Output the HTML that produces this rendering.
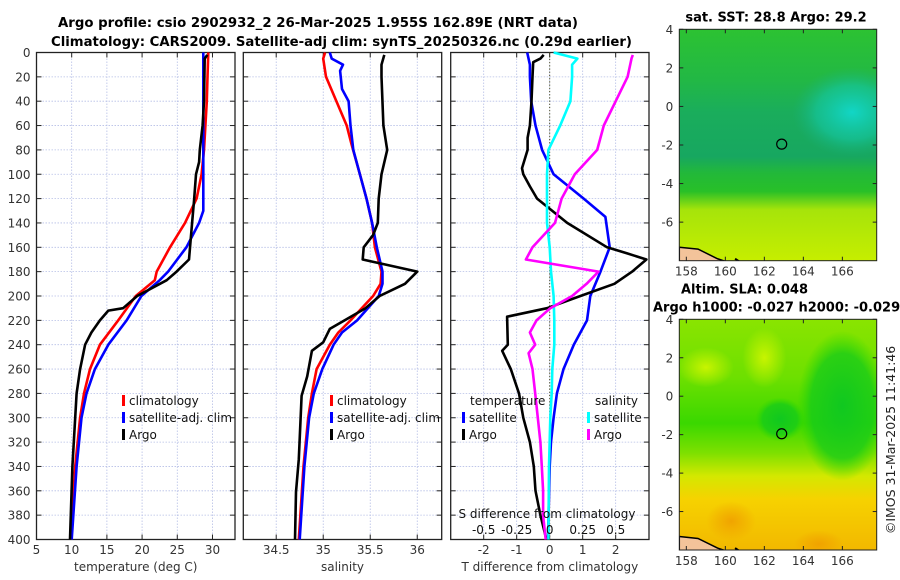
<!DOCTYPE html>
<html><head><meta charset="utf-8">
<style>
html,body{margin:0;padding:0;background:#fff;}
svg{display:block;font-family:"DejaVu Sans","Liberation Sans",sans-serif;}
</style></head>
<body>
<svg id="fig" width="900" height="580" viewBox="0 0 900 580" xmlns="http://www.w3.org/2000/svg">
<defs>
<linearGradient id="sstGrad" x1="0" y1="0" x2="0" y2="1">
<stop offset="0" stop-color="#2cc232"/>
<stop offset="0.22" stop-color="#22b845"/>
<stop offset="0.36" stop-color="#1aad5c"/>
<stop offset="0.55" stop-color="#17a760"/>
<stop offset="0.62" stop-color="#22b83a"/>
<stop offset="0.7" stop-color="#28c028"/>
<stop offset="0.78" stop-color="#a6e40a"/>
<stop offset="1" stop-color="#c6ee00"/>
</linearGradient>
<radialGradient id="cyanBlob" cx="0.5" cy="0.5" r="0.5">
<stop offset="0" stop-color="#12d6c6" stop-opacity="1"/>
<stop offset="0.6" stop-color="#14c8a8" stop-opacity="0.6"/>
<stop offset="1" stop-color="#18b080" stop-opacity="0"/>
</radialGradient>
<linearGradient id="slaGrad" x1="0" y1="0" x2="0" y2="1">
<stop offset="0" stop-color="#8ae400"/>
<stop offset="0.25" stop-color="#6ee000"/>
<stop offset="0.45" stop-color="#3ad800"/>
<stop offset="0.58" stop-color="#7ee000"/>
<stop offset="0.68" stop-color="#d4e800"/>
<stop offset="0.78" stop-color="#f6d200"/>
<stop offset="1" stop-color="#f2b800"/>
</linearGradient>
<radialGradient id="greenBlob" cx="0.5" cy="0.5" r="0.5">
<stop offset="0" stop-color="#10c820" stop-opacity="1"/>
<stop offset="0.7" stop-color="#18cc18" stop-opacity="0.8"/>
<stop offset="1" stop-color="#30d800" stop-opacity="0"/>
</radialGradient>
<radialGradient id="yellowBlob" cx="0.5" cy="0.5" r="0.5">
<stop offset="0" stop-color="#c8f400" stop-opacity="1"/>
<stop offset="1" stop-color="#c8f400" stop-opacity="0"/>
</radialGradient>
<radialGradient id="orangeBlob" cx="0.5" cy="0.5" r="0.5">
<stop offset="0" stop-color="#f0a000" stop-opacity="0.9"/>
<stop offset="1" stop-color="#f0a000" stop-opacity="0"/>
</radialGradient>
</defs>
<text x="58" y="27" textLength="520" lengthAdjust="spacingAndGlyphs" font-size="13" font-weight="bold">Argo profile: csio 2902932_2 26-Mar-2025 1.955S 162.89E (NRT data)</text>
<text x="51" y="46" textLength="581" lengthAdjust="spacingAndGlyphs" font-size="13" font-weight="bold">Climatology: CARS2009. Satellite-adj clim: synTS_20250326.nc (0.29d earlier)</text>
<g id="panels"></g>
<g id="maps"></g>
<text transform="translate(895,440) rotate(-90)" text-anchor="middle" font-size="12.5" fill="#222">©IMOS 31-Mar-2025 11:41:46</text>
</svg>
<script>
// ---- data (depth in m) ----
const tClimDepth=[0,20,40,60,80,100,120,140,160,180,187,200,220,240,260,280,300,340,400];
const tClimVal=[29.4,29.3,29.2,29.0,28.8,28.46,27.75,26.1,23.96,22.07,21.8,19.1,16.6,14.0,12.6,11.75,11.2,10.5,9.86];
const tSatDepth=[0,20,60,100,130,140,160,180,187,200,220,240,260,280,300,340,400];
const tSatVal=[28.7,28.7,28.7,28.7,28.7,28.1,26.3,23.7,22.5,19.9,17.8,15.2,13.3,12.1,11.4,10.7,10.0];
const tArgoDepth=[2,5,40,60,80,90,100,120,140,170,180,187,200,210,212,220,230,240,260,280,300,340,400];
const tArgoVal=[29.26,28.9,28.8,28.6,28.2,28.1,27.66,27.4,27.1,26.66,24.9,23.5,19.3,17.3,15.2,14.0,12.8,11.9,11.2,10.7,10.5,10.1,9.76];

const sClimDepth=[0,5,20,40,60,75,100,120,140,160,180,190,200,220,230,240,260,280,300,340,400];
const sClimVal=[35.02,35.0,35.03,35.14,35.25,35.3,35.39,35.46,35.52,35.55,35.62,35.61,35.53,35.29,35.16,35.07,34.93,34.88,34.84,34.79,34.74];
const sSatDepth=[0,5,10,15,30,40,60,80,100,120,140,160,180,190,200,220,230,240,260,280,300,340,400];
const sSatVal=[35.07,35.09,35.21,35.18,35.2,35.27,35.29,35.32,35.39,35.46,35.52,35.57,35.63,35.63,35.59,35.36,35.2,35.11,34.99,34.9,34.85,34.8,34.75];
const sArgoDepth=[2,10,20,60,80,100,120,140,150,160,170,180,190,200,210,219,227,238,245,266,282,334,361,400];
const sArgoVal=[35.65,35.62,35.62,35.64,35.68,35.62,35.59,35.58,35.53,35.43,35.42,36.0,35.87,35.6,35.45,35.25,35.07,35.0,34.88,34.83,34.77,34.74,34.71,34.70];

const dTSatDepth=[0,10,20,40,60,80,100,120,135,160,180,200,220,240,260,280,300,320,340,400];
const dTSatVal=[-0.68,-0.6,-0.6,-0.56,-0.43,-0.23,0.12,1.03,1.69,1.82,1.54,1.23,1.13,0.73,0.42,0.22,0.12,0.04,0.0,-0.05];
const dTArgoDepth=[2,5,8,20,40,60,70,80,95,100,110,120,140,160,165,170,180,190,200,210,217,240,245,260,280,300,320,340,360,380,400];
const dTArgoVal=[-0.18,-0.28,-0.5,-0.52,-0.55,-0.6,-0.67,-0.67,-0.84,-0.8,-0.6,-0.38,0.53,1.74,2.35,2.93,2.5,1.96,0.93,-0.08,-1.29,-1.27,-1.44,-1.18,-0.93,-0.8,-0.6,-0.48,-0.43,-0.28,-0.1];
const dSSatDepth=[0,5,10,20,40,60,80,100,140,160,180,200,220,240,260,280,300,340,400];
const dSSatVal=[0.03,0.21,0.17,0.17,0.157,0.08,-0.01,-0.02,-0.02,0.0,0.01,0.03,0.035,0.035,0.02,0.015,0.005,-0.005,-0.01];
const dSArgoDepth=[2,5,20,40,60,80,100,120,140,160,170,180,190,200,210,220,230,240,247,260,280,300,320,340,360,380,400];
const dSArgoVal=[0.63,0.62,0.59,0.5,0.41,0.36,0.19,0.09,0.04,-0.13,-0.18,0.37,0.28,0.17,0.005,-0.1,-0.15,-0.11,-0.16,-0.13,-0.11,-0.09,-0.07,-0.06,-0.05,-0.05,-0.03];

const depthTicks=[0,20,40,60,80,100,120,140,160,180,200,220,240,260,280,300,320,340,360,380,400];
const tempTicks=[5,10,15,20,25,30];
const salTicks=[34.5,35,35.5,36];
const salTickLabels=["34.5","35","35.5","36"];
const dTTicks=[-2,-1,0,1,2];
const dSTicks=[-0.5,-0.25,0,0.25,0.5];
const dSTickLabels=["-0.5","-0.25","0","0.25","0.5"];
const latTicks=[4,2,0,-2,-4,-6];
const lonTicks=[158,160,162,164,166];

const NS="http://www.w3.org/2000/svg";
function mk(tag,attrs,parent){const e=document.createElementNS(NS,tag);for(const k in attrs)e.setAttribute(k,attrs[k]);parent.appendChild(e);return e;}
const panelsG=document.getElementById('panels');
const Y0=52.5,Y1=539.5;
function yD(d){return Y0+(d/400)*(Y1-Y0);}
const FS=12;

function panel(name,x0,x1,vmin,vmax,ticks,tickLabels,xlabel,showY){
  const g=mk('g',{},panelsG);
  
  
  const xs=v=>x0+(v-vmin)/(vmax-vmin)*(x1-x0);
  depthTicks.forEach(d=>{if(d>0&&d<400){const l=mk('line',{x1:x0,x2:x1,y1:yD(d),y2:yD(d),stroke:'#b6bfe6','stroke-width':0.8,'stroke-dasharray':'1.5,1.5'},g);
    }});
  ticks.forEach(v=>{const l=mk('line',{x1:xs(v),x2:xs(v),y1:Y0,y2:Y1,stroke:'#b6bfe6','stroke-width':0.8,'stroke-dasharray':'1.5,1.5'},g);
    });
  depthTicks.forEach((d,i)=>{
    mk('line',{x1:x0,x2:x0+5,y1:yD(d),y2:yD(d),stroke:'#222','stroke-width':1},g);
    mk('line',{x1:x1-5,x2:x1,y1:yD(d),y2:yD(d),stroke:'#222','stroke-width':1},g);
    if(showY){const t=mk('text',{x:x0-6,y:yD(d)+4.5,'text-anchor':'end','font-size':FS,fill:'#333'},g);t.textContent=d;
      }
  });
  ticks.forEach((v,i)=>{
    mk('line',{x1:xs(v),x2:xs(v),y1:Y0,y2:Y0+5,stroke:'#222','stroke-width':1},g);
    mk('line',{x1:xs(v),x2:xs(v),y1:Y1-5,y2:Y1,stroke:'#222','stroke-width':1},g);
    const t=mk('text',{x:xs(v),y:554,'text-anchor':'middle','font-size':FS,fill:'#333'},g);t.textContent=tickLabels[i];
    
  });
  const box=mk('rect',{x:x0,y:Y0,width:x1-x0,height:Y1-Y0,fill:'none',stroke:'#222','stroke-width':1.3},g);
  
  const xl=mk('text',{x:(x0+x1)/2,y:571,'text-anchor':'middle','font-size':FS,fill:'#333'},g);xl.textContent=xlabel;
  
  return {g,xs};
}
function series(p,depths,vals,color,name,scale){
  scale=scale||1;
  const pts=depths.map((d,i)=>p.xs(vals[i]*scale).toFixed(1)+','+yD(d).toFixed(1)).join(' ');
  const pl=mk('polyline',{points:pts,fill:'none',stroke:color,'stroke-width':2.6,'stroke-linejoin':'round'},p.g);
  
  
}
function legendItem(g,x,y,color,label,name){
  mk('rect',{x:x,y:y-10,width:3,height:11,fill:color},g);
  const t=mk('text',{x:x+7,y:y,'font-size':FS,fill:'#111'},g);t.textContent=label;
  
  
}

const p1=panel('temperature-panel',36.5,235,5,33.2,tempTicks,tempTicks.map(String),'temperature (deg C)',true);
series(p1,tClimDepth,tClimVal,'#ff0000','temp-climatology-line');
series(p1,tSatDepth,tSatVal,'#0000ff','temp-satellite-line');
series(p1,tArgoDepth,tArgoVal,'#000000','temp-argo-line');
legendItem(p1.g,122,405,'#ff0000','climatology','legend-climatology');
legendItem(p1.g,122,422,'#0000ff','satellite-adj. clim','legend-satellite');
legendItem(p1.g,122,439,'#000000','Argo','legend-argo');

const p2=panel('salinity-panel',243.3,441.7,34.15,36.26,salTicks,salTickLabels,'salinity',false);
series(p2,sClimDepth,sClimVal,'#ff0000','sal-climatology-line');
series(p2,sSatDepth,sSatVal,'#0000ff','sal-satellite-line');
series(p2,sArgoDepth,sArgoVal,'#000000','sal-argo-line');
legendItem(p2.g,330,405,'#ff0000','climatology','legend-climatology');
legendItem(p2.g,330,422,'#0000ff','satellite-adj. clim','legend-satellite');
legendItem(p2.g,330,439,'#000000','Argo','legend-argo');

const p3=panel('difference-panel',450.7,649,-3,3.01,dTTicks,dTTicks.map(String),'T difference from climatology',false);
const zl=mk('line',{x1:p3.xs(0),x2:p3.xs(0),y1:Y0,y2:Y1,stroke:'#4a4a20','stroke-width':1,'stroke-dasharray':'1.2,2'},p3.g);

series(p3,dTSatDepth,dTSatVal,'#0000ff','dT-satellite-line');
series(p3,dTArgoDepth,dTArgoVal,'#000000','dT-argo-line');
series(p3,dSSatDepth,dSSatVal,'#00ffff','dS-satellite-line',4);
series(p3,dSArgoDepth,dSArgoVal,'#ff00ff','dS-argo-line',4);
{const t=mk('text',{x:470,y:405,'font-size':FS,fill:'#111'},p3.g);t.textContent='temperature';
 
 const t2=mk('text',{x:595,y:405,'font-size':FS,fill:'#111'},p3.g);t2.textContent='salinity';
 }
legendItem(p3.g,462,422,'#0000ff','satellite','legend-t-satellite');
legendItem(p3.g,462,439,'#000000','Argo','legend-t-argo');
legendItem(p3.g,587,422,'#00ffff','satellite','legend-s-satellite');
legendItem(p3.g,587,439,'#ff00ff','Argo','legend-s-argo');
{const t=mk('text',{x:547,y:518,'text-anchor':'middle','font-size':FS,fill:'#111'},p3.g);t.textContent='S difference from climatology';
 
 dSTicks.forEach((v,i)=>{const s=mk('text',{x:p3.xs(v*4),y:534,'text-anchor':'middle','font-size':FS,fill:'#111'},p3.g);s.textContent=dSTickLabels[i];
 });}

const mapsG=document.getElementById('maps');
function map(name,top,bottom,title,title2,fillFn){
  const x0=679.3,x1=876.7;
  const g=mk('g',{},mapsG);
  
  
  const lonX=v=>x0+(v-157.64)/(167.76-157.64)*(x1-x0);
  const latY=v=>top+(4-v)/12*(bottom-top);
  const cp0=mk('clipPath',{id:name+'clip'},g);
  mk('rect',{x:x0,y:top,width:x1-x0,height:bottom-top},cp0);
  const cg=mk('g',{'clip-path':'url(#'+name+'clip)'},g);
  fillFn(cg,x0,x1,top,bottom,lonX,latY);
  mk('path',{d:`M${x0} ${latY(-7.3)} L${lonX(158.6)} ${latY(-7.4)} L${lonX(159.6)} ${latY(-7.9)} L${lonX(160.2)} ${latY(-8.1)} L${x0} ${latY(-8.1)} Z`,fill:'#f3c39a',stroke:'#000','stroke-width':1.5},cg);
  mk('path',{d:`M${lonX(160.5)} ${latY(-7.9)} L${lonX(160.8)} ${latY(-8.1)}`,stroke:'#000','stroke-width':2},cg);
  const c=mk('circle',{cx:lonX(162.89),cy:latY(-1.955),r:5,fill:'none',stroke:'#000','stroke-width':1.2},g);
  
  mk('rect',{x:x0,y:top,width:x1-x0,height:bottom-top,fill:'none',stroke:'#222','stroke-width':1},g);
  latTicks.forEach(v=>{mk('line',{x1:x0,x2:x0+4,y1:latY(v),y2:latY(v),stroke:'#222'},g);mk('line',{x1:x1-4,x2:x1,y1:latY(v),y2:latY(v),stroke:'#222'},g);
    const t=mk('text',{x:x0-6,y:latY(v)+4.5,'text-anchor':'end','font-size':FS,fill:'#333'},g);t.textContent=v;
    });
  lonTicks.forEach(v=>{mk('line',{x1:lonX(v),x2:lonX(v),y1:top,y2:top+4,stroke:'#222'},g);mk('line',{x1:lonX(v),x2:lonX(v),y1:bottom-4,y2:bottom,stroke:'#222'},g);
    const t=mk('text',{x:lonX(v),y:bottom+15,'text-anchor':'middle','font-size':FS,fill:'#333'},g);t.textContent=v;
    });
  const tt=mk('text',{x:(x0+x1)/2-2,y:top-8,'text-anchor':'middle','font-size':13,'font-weight':'bold'},g);tt.textContent=title;
  
  if(title2){const t2=mk('text',{x:653,y:top-8,'font-size':13,'font-weight':'bold'},g);t2.textContent=title2;
    
    tt.setAttribute('y',top-26);tt.setAttribute('x',681);tt.setAttribute('text-anchor','start');}
}
map('sst-map',29.3,260.7,'sat. SST: 28.8 Argo: 29.2',null,(g,x0,x1,t,b,lonX,latY)=>{
  mk('rect',{x:x0,y:t,width:x1-x0,height:b-t,fill:'url(#sstGrad)'},g);
  mk('ellipse',{cx:lonX(166.5),cy:latY(-0.3),rx:60,ry:45,fill:'url(#cyanBlob)'},g);
});
map('sla-map',319.3,550,'Altim. SLA: 0.048','Argo h1000: -0.027 h2000: -0.029',(g,x0,x1,t,b,lonX,latY)=>{
  mk('rect',{x:x0,y:t,width:x1-x0,height:b-t,fill:'url(#slaGrad)'},g);
  mk('ellipse',{cx:lonX(166),cy:latY(-0.5),rx:45,ry:75,fill:'url(#greenBlob)'},g);
  mk('ellipse',{cx:lonX(162.8),cy:latY(-1.2),rx:25,ry:22,fill:'url(#greenBlob)'},g);
  mk('ellipse',{cx:lonX(162),cy:latY(2),rx:22,ry:30,fill:'url(#yellowBlob)'},g);
  mk('ellipse',{cx:lonX(159),cy:latY(1.5),rx:28,ry:20,fill:'url(#yellowBlob)'},g);
  mk('ellipse',{cx:lonX(160.3),cy:latY(-6.5),rx:25,ry:20,fill:'url(#orangeBlob)'},g);
  mk('ellipse',{cx:lonX(164.8),cy:latY(-7.7),rx:25,ry:14,fill:'url(#orangeBlob)'},g);
});
</script>
</body></html>
